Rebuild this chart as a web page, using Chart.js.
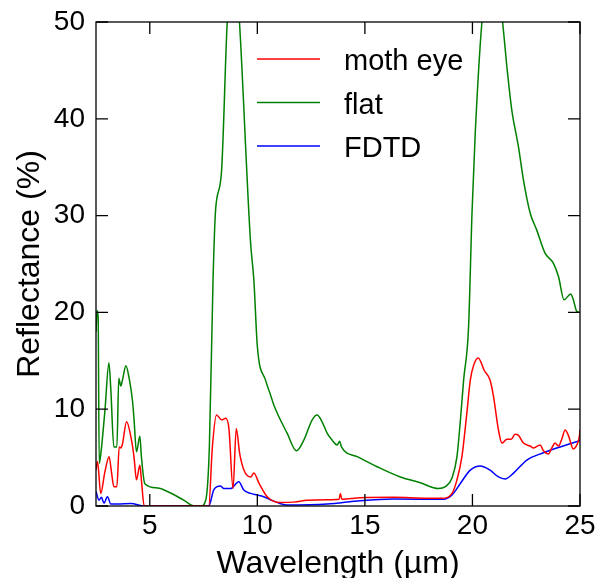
<!DOCTYPE html>
<html>
<head>
<meta charset="utf-8">
<script src="https://cdn.jsdelivr.net/npm/chart.js@4.4.0/dist/chart.umd.min.js"></script>
<style>
html, body { margin: 0; padding: 0; background: #fff; }
</style>
</head>
<body>
<canvas id="reflChart" width="599" height="578"></canvas>
<script>
// reflectance spectra
var xTicks = [5, 10, 15, 20, 25];
var yTicks = [0, 10, 20, 30, 40, 50];

var mothX = [2.5, 2.57, 2.72, 2.91, 3.11, 3.22, 3.33, 3.47, 3.58, 3.66, 3.73, 3.92, 4.15, 4.27, 4.38, 4.54, 4.61, 4.74, 5.5, 6.5,
    7.74, 7.91, 8.10, 8.34, 8.53, 8.68, 8.87, 9.02, 9.18, 9.38, 9.69, 9.84, 10.07, 10.46, 11.08, 11.70, 12.32, 13.25, 13.8, 13.86,
    13.93, 14.79, 16.34, 17.89, 18.58, 19.05, 19.28, 19.51, 19.74, 19.90, 20.05, 20.27, 20.55, 20.82, 20.98, 21.21, 21.37, 21.60, 21.80, 21.98,
    22.14, 22.37, 22.68, 22.84, 23.15, 23.30, 23.53, 23.69, 23.84, 24.0, 24.15, 24.31, 24.46, 24.69, 24.85, 24.97, 25.0];
var mothY = [3.7, 4.6, 1.3, 3.5, 5.1, 3.5, 2.0, 2.0, 6.1, 6.0, 6.4, 8.7, 6.8, 5.0, 2.7, 4.2, 2.7, 0, 0, 0,
    0, 6.1, 9.4, 8.9, 9.06, 8.0, 1.8, 8.0, 5.4, 3.7, 3.0, 3.4, 2.4, 0.96, 0.35, 0.4, 0.6, 0.65, 0.7, 1.3,
    0.7, 0.86, 0.9, 0.8, 0.8, 1.3, 2.7, 5.1, 9.6, 13, 14.5, 15.3, 14.0, 13, 11.3, 7.85, 6.5, 6.9, 6.9, 7.4,
    7.3, 6.5, 6.2, 6.0, 6.3, 5.7, 5.37, 6.0, 6.5, 6.2, 6.9, 7.85, 7.3, 5.9, 6.3, 7.2, 7.9];

var flatX = [2.5, 2.55, 2.6, 2.65, 2.73, 2.92, 3.10, 3.19, 3.33, 3.47, 3.56, 3.65, 3.73, 3.89, 4.04, 4.20, 4.27, 4.38, 4.54, 4.61,
    4.77, 5.36, 5.97, 6.58, 7.09, 7.37, 7.60, 7.77, 7.94, 8.06, 8.33, 8.60, 8.9, 9.17, 9.68, 9.84, 10.0, 10.38, 10.61, 10.77,
    11.39, 11.82, 12.16, 12.55, 12.78, 13.01, 13.25, 13.48, 13.71, 13.83, 13.91, 14.64, 15.57, 16.65, 17.58, 18.42, 18.74, 19.05, 19.28, 19.43,
    19.59, 19.82, 19.98, 20.13, 20.44, 20.9, 21.40, 21.60, 21.83, 22.14, 22.37, 22.68, 22.99, 23.38, 23.76, 24.0, 24.26, 24.57, 24.69, 24.85, 25.0];
var flatY = [18, 20.2, 19.5, 4.4, 5.5, 10, 14.8, 12, 6.1, 6.1, 13.2, 12.4, 13.0, 14.5, 13.2, 10.8, 8.9, 5.6, 7.2, 5.1,
    2.3, 1.86, 1.34, 0.6, 0, 0, 0.6, 6.1, 23.3, 30.6, 34.4, 50, 58, 50, 27.4, 23.3, 16.5, 13.0, 11.5, 10.4,
    7.5, 5.7, 6.8, 8.9, 9.4, 8.7, 7.5, 6.8, 6.3, 6.7, 6.1, 5.1, 4.06, 3.0, 2.4, 1.8, 2.0, 2.9, 5.1, 8.6,
    13, 18.5, 30.3, 38.5, 50, 58, 50, 45.4, 40.9, 37.1, 33.7, 30.3, 28.5, 26.1, 25.1, 23.7, 21.3, 21.9, 21.3, 20.1, 20.0];

var fdtdX = [2.5, 2.64, 2.75, 2.87, 3.03, 3.19, 3.5, 4.12, 4.74, 7.74, 7.98, 8.29, 8.44, 8.75, 9.14, 9.37, 9.69, 10.0, 10.3, 10.61,
    11.0, 11.39, 13.25, 14.79, 16.34, 18.66, 19.05, 19.43, 19.90, 20.36, 20.82, 21.21, 21.52, 21.91, 22.53, 23.30, 24.07, 25.0];
var fdtdY = [1.5, 0.6, 0.9, 0.3, 0.96, 0.2, 0.2, 0.25, 0, 0, 1.7, 2.07, 1.8, 1.8, 2.5, 1.65, 1.3, 1.14, 0.95, 0.65,
    0.3, 0.1, 0.2, 0.55, 0.72, 0.7, 1.14, 2.3, 3.7, 4.13, 3.7, 3.0, 2.8, 3.4, 4.75, 5.5, 6.1, 6.75];

function pts(xs, ys) {
    return xs.map(function (v, i) { return { x: v, y: ys[i] }; });
}

var font = "'Liberation Sans', Arial, Helvetica, sans-serif";

// frame, inward ticks on all four sides, legend inside the plot
var framePlugin = {
    id: 'frame',
    afterDatasetsDraw: function (chart) {
        var ctx = chart.ctx, a = chart.chartArea;
        var sx = chart.scales.x, sy = chart.scales.y;
        var len = 12;
        ctx.save();
        ctx.strokeStyle = '#000';
        ctx.lineWidth = 1.3;
        ctx.strokeRect(a.left, a.top, a.right - a.left, a.bottom - a.top);
        ctx.beginPath();
        xTicks.forEach(function (v) {
            var p = sx.getPixelForValue(v);
            ctx.moveTo(p, a.bottom); ctx.lineTo(p, a.bottom - len);
            ctx.moveTo(p, a.top); ctx.lineTo(p, a.top + len);
        });
        yTicks.forEach(function (v) {
            var p = sy.getPixelForValue(v);
            ctx.moveTo(a.left, p); ctx.lineTo(a.left + len, p);
            ctx.moveTo(a.right, p); ctx.lineTo(a.right - len, p);
        });
        ctx.stroke();

        ctx.font = '29px ' + font;
        ctx.fillStyle = '#000';
        ctx.textBaseline = 'alphabetic';
        chart.data.datasets.forEach(function (ds, i) {
            var ly = a.top + 37 + i * 43.5;
            ctx.strokeStyle = ds.borderColor;
            ctx.lineWidth = 1.6;
            ctx.beginPath();
            ctx.moveTo(a.left + 161, ly);
            ctx.lineTo(a.left + 224, ly);
            ctx.stroke();
            ctx.fillText(ds.label, a.left + 248, ly + 11);
        });
        ctx.restore();
    }
};

var ctx = document.getElementById('reflChart');
var reflChart = new Chart(ctx, {
    type: 'line',
    data: {
        datasets: [{
            label: 'moth eye',
            data: pts(mothX, mothY),
            borderColor: '#ff0000',
        }, {
            label: 'flat',
            data: pts(flatX, flatY),
            borderColor: '#008000',
        }, {
            label: 'FDTD',
            data: pts(fdtdX, fdtdY),
            borderColor: '#0000ff',
        }]
    },
    options: {
        responsive: false,
        animation: false,
        parsing: false,
        layout: { padding: { top: 22, right: 19, left: 0, bottom: 0 } },
        elements: {
            point: { radius: 0 },
            line: { borderWidth: 1.5, fill: false, cubicInterpolationMode: 'monotone' }
        },
        plugins: {
            legend: { display: false },
            tooltip: { enabled: false }
        },
        scales: {
            x: {
                type: 'linear',
                min: 2.5,
                max: 25,
                afterBuildTicks: function (s) { s.ticks = xTicks.map(function (v) { return { value: v }; }); },
                afterFit: function (s) { s.height = 72; },
                grid: { display: false, drawTicks: false },
                border: { display: false },
                ticks: { color: '#000', padding: 3, font: { size: 28, family: font } },
                title: { display: true, text: 'Wavelength (µm)', color: '#000', padding: { top: 0, bottom: 0 }, font: { size: 32, family: font, lineHeight: 0.85 } }
            },
            y: {
                type: 'linear',
                min: 0,
                max: 50,
                afterBuildTicks: function (s) { s.ticks = yTicks.map(function (v) { return { value: v }; }); },
                afterFit: function (s) { s.width = 96; },
                grid: { display: false, drawTicks: false },
                border: { display: false },
                ticks: { color: '#000', padding: 11, font: { size: 28, family: font, lineHeight: 0.75 } },
                title: { display: true, text: 'Reflectance (%)', color: '#000', padding: { top: 11, bottom: 0 }, font: { size: 32, family: font } }
            }
        }
    },
    plugins: [framePlugin]
});
</script>
</body>
</html>
